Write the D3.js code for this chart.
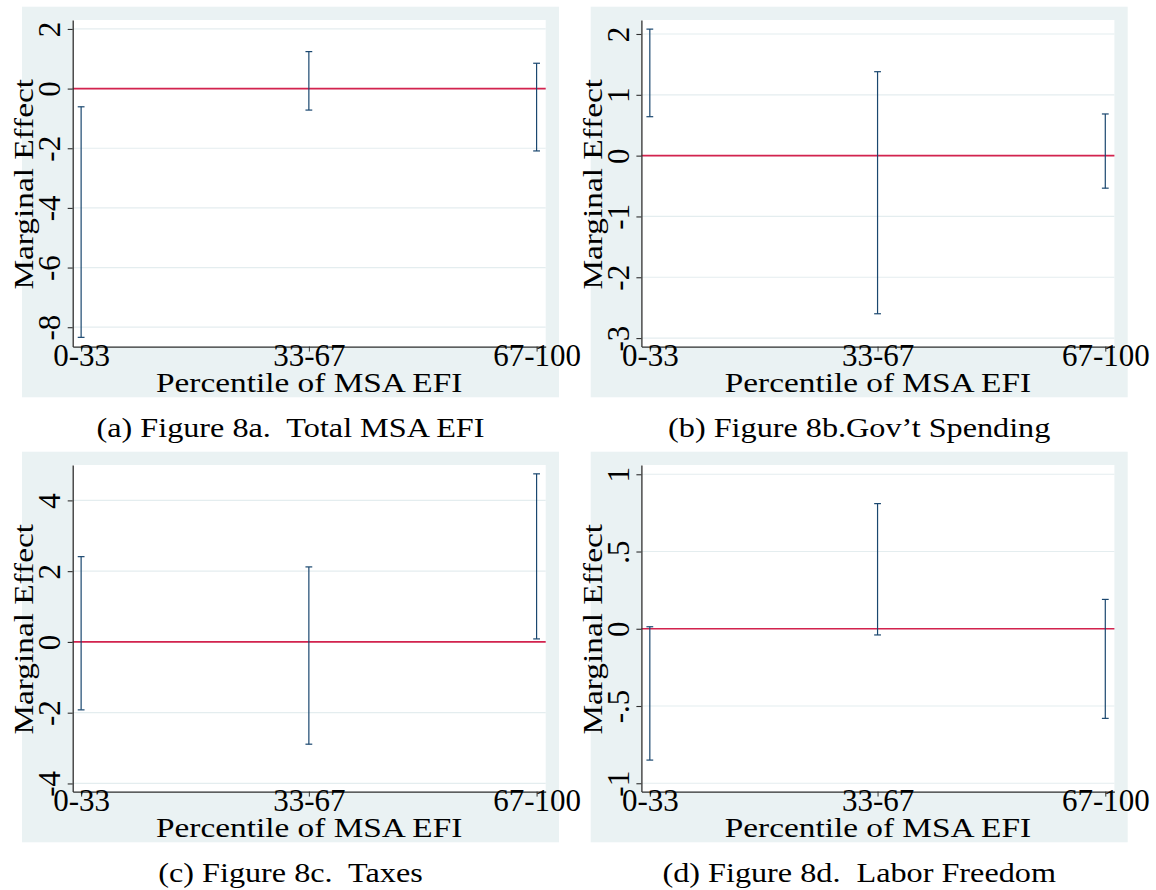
<!DOCTYPE html>
<html>
<head>
<meta charset="utf-8">
<script src="https://cdn.jsdelivr.net/npm/d3@7"></script>
<style>
  body { margin: 0; background: #fff; }
  text { font-family: "Liberation Serif", "Times New Roman", serif; fill: #000; }
</style>
</head>
<body>
<div id="chart"></div>
<script>
// categories on the x axis (same for all four panels)
const categories = ["0-33", "33-67", "67-100"];
const xTitle = "Percentile of MSA EFI";
const yTitle = "Marginal Effect";
const captions = [
  "(a) Figure 8a.  Total MSA EFI",
  "(b) Figure 8b.Gov\u2019t Spending",
  "(c) Figure 8c.  Taxes",
  "(d) Figure 8d.  Labor Freedom"
];

// confidence interval ends
const lowA  = [-8.34, -0.72, -2.09];
const highA = [-0.61,  1.24,  0.85];
const lowB  = [ 0.64, -2.60, -0.535];
const highB = [ 2.08,  1.38,  0.685];
const lowC  = [-1.92, -2.89,  0.085];
const highC = [ 2.41,  2.12,  4.75];
const lowD  = [-0.85, -0.04, -0.58];
const highD = [ 0.013, 0.81,  0.19];

// y axis ranges and ticks
const domainA = [-8.65, 2.30];
const domainB = [-3.14, 2.23];
const domainC = [-4.23, 5.00];
const domainD = [-1.054, 1.06];
const ticksA = [-8, -6, -4, -2, 0, 2];
const ticksB = [-3, -2, -1, 0, 1, 2];
const ticksC = [-4, -2, 0, 2, 4];
const ticksD = [-1, -0.5, 0, 0.5, 1];
const tickLabelsA = ["-8", "-6", "-4", "-2", "0", "2"];
const tickLabelsB = ["-3", "-2", "-1", "0", "1", "2"];
const tickLabelsC = ["-4", "-2", "0", "2", "4"];
const tickLabelsD = ["-1", "-.5", "0", ".5", "1"];

const panels = [
  { caption: captions[0], low: lowA, high: highA, domain: domainA, ticks: ticksA, labels: tickLabelsA },
  { caption: captions[1], low: lowB, high: highB, domain: domainB, ticks: ticksB, labels: tickLabelsB },
  { caption: captions[2], low: lowC, high: highC, domain: domainC, ticks: ticksC, labels: tickLabelsC },
  { caption: captions[3], low: lowD, high: highD, domain: domainD, ticks: ticksD, labels: tickLabelsD }
];

let width = 1156, height = 890,
    origins = [[22, 6.7], [590.7, 6.7], [22, 451.7], [590.7, 451.7]],
    bgW = 537, bgH = 390.6,
    plotL = 50.7, plotT = 13.3, plotW = 473, plotH = 326.6,
    bgColor = "#eaf2f3", gridColor = "#e4edef", axisColor = "#2e2e2e",
    zeroColor = "#d3234e", barColor = "#1a476f",
    stretch = 1.19, capStretch = 1.15;

let svg = d3.select("#chart").append("svg")
  .attr("width", width).attr("height", height)
  .attr("viewBox", `0 0 ${width} ${height}`);

function widen(sel, k) {
  let len = sel.node().getComputedTextLength();
  sel.attr("textLength", len * k).attr("lengthAdjust", "spacingAndGlyphs");
}

function render(p, ox, oy) {
  let g = svg.append("g").attr("transform", `translate(${ox},${oy})`);
  g.append("rect").attr("width", bgW).attr("height", bgH).attr("fill", bgColor);

  let plot = g.append("g").attr("transform", `translate(${plotL},${plotT})`);
  plot.append("rect").attr("width", plotW).attr("height", plotH).attr("fill", "#fff");

  let xScale = d3.scaleLinear().domain([-0.037, 2.04]).range([0, plotW]);
  let yScale = d3.scaleLinear().domain(p.domain).range([plotH, 0]);

  // grid lines
  plot.append("g").selectAll("line").data(p.ticks).join("line")
    .attr("x1", 0).attr("x2", plotW)
    .attr("y1", d => yScale(d)).attr("y2", d => yScale(d))
    .attr("stroke", gridColor).attr("stroke-width", 1.2);

  // zero reference line
  plot.append("line")
    .attr("x1", 0).attr("x2", plotW)
    .attr("y1", yScale(0)).attr("y2", yScale(0))
    .attr("stroke", zeroColor).attr("stroke-width", 1.6);

  // error bars
  let bars = plot.append("g").selectAll("g").data(categories).join("g")
    .attr("stroke", barColor).attr("stroke-width", 1.2);
  bars.append("line")
    .attr("x1", (d, i) => xScale(i)).attr("x2", (d, i) => xScale(i))
    .attr("y1", (d, i) => yScale(p.low[i])).attr("y2", (d, i) => yScale(p.high[i]));
  bars.append("line")
    .attr("x1", (d, i) => xScale(i) - 3.4).attr("x2", (d, i) => xScale(i) + 3.4)
    .attr("y1", (d, i) => yScale(p.low[i])).attr("y2", (d, i) => yScale(p.low[i]));
  bars.append("line")
    .attr("x1", (d, i) => xScale(i) - 3.4).attr("x2", (d, i) => xScale(i) + 3.4)
    .attr("y1", (d, i) => yScale(p.high[i])).attr("y2", (d, i) => yScale(p.high[i]));

  // y axis, labels turned on their side like Stata does
  let yAxis = d3.axisLeft(yScale).tickValues(p.ticks)
    .tickFormat((d, i) => p.labels[i]).tickSize(5).tickSizeOuter(0);
  let yGroup = plot.append("g").call(yAxis)
    .attr("font-size", 31).attr("font-family", null).attr("color", axisColor);
  yGroup.select(".domain").attr("stroke-width", 1.3);
  yGroup.selectAll(".tick line").attr("stroke-width", 1.1);
  yGroup.selectAll("text")
    .attr("x", null).attr("dy", null)
    .attr("text-anchor", "middle")
    .attr("transform", "translate(-12.7,0) rotate(-90)")
    .attr("fill", "#000");

  // x axis
  let xAxis = d3.axisBottom(xScale).tickValues([0, 1, 2])
    .tickFormat((d, i) => categories[i]).tickSize(5).tickSizeOuter(0);
  let xGroup = plot.append("g").call(xAxis)
    .attr("transform", `translate(0,${plotH})`)
    .attr("font-size", 31).attr("font-family", null).attr("color", axisColor);
  xGroup.select(".domain").attr("stroke-width", 1.3);
  xGroup.selectAll("text").attr("y", 19).attr("dy", null).attr("fill", "#000");

  // axis titles
  let xt = plot.append("text")
    .attr("x", plotW / 2).attr("y", plotH + 45.5)
    .attr("text-anchor", "middle").attr("font-size", 28)
    .text(xTitle);
  widen(xt, stretch);
  let yt = plot.append("text")
    .attr("transform", `translate(-39.4,${plotH / 2 + 1}) rotate(-90)`)
    .attr("text-anchor", "middle").attr("font-size", 28)
    .text(yTitle);
  widen(yt, stretch);

  // caption underneath
  let cap = g.append("text")
    .attr("x", bgW / 2).attr("y", 430)
    .attr("text-anchor", "middle").attr("font-size", 28)
    .attr("xml:space", "preserve")
    .text(p.caption);
  widen(cap, capStretch);
}

panels.forEach((p, i) => render(p, origins[i][0], origins[i][1]));
</script>
</body>
</html>
